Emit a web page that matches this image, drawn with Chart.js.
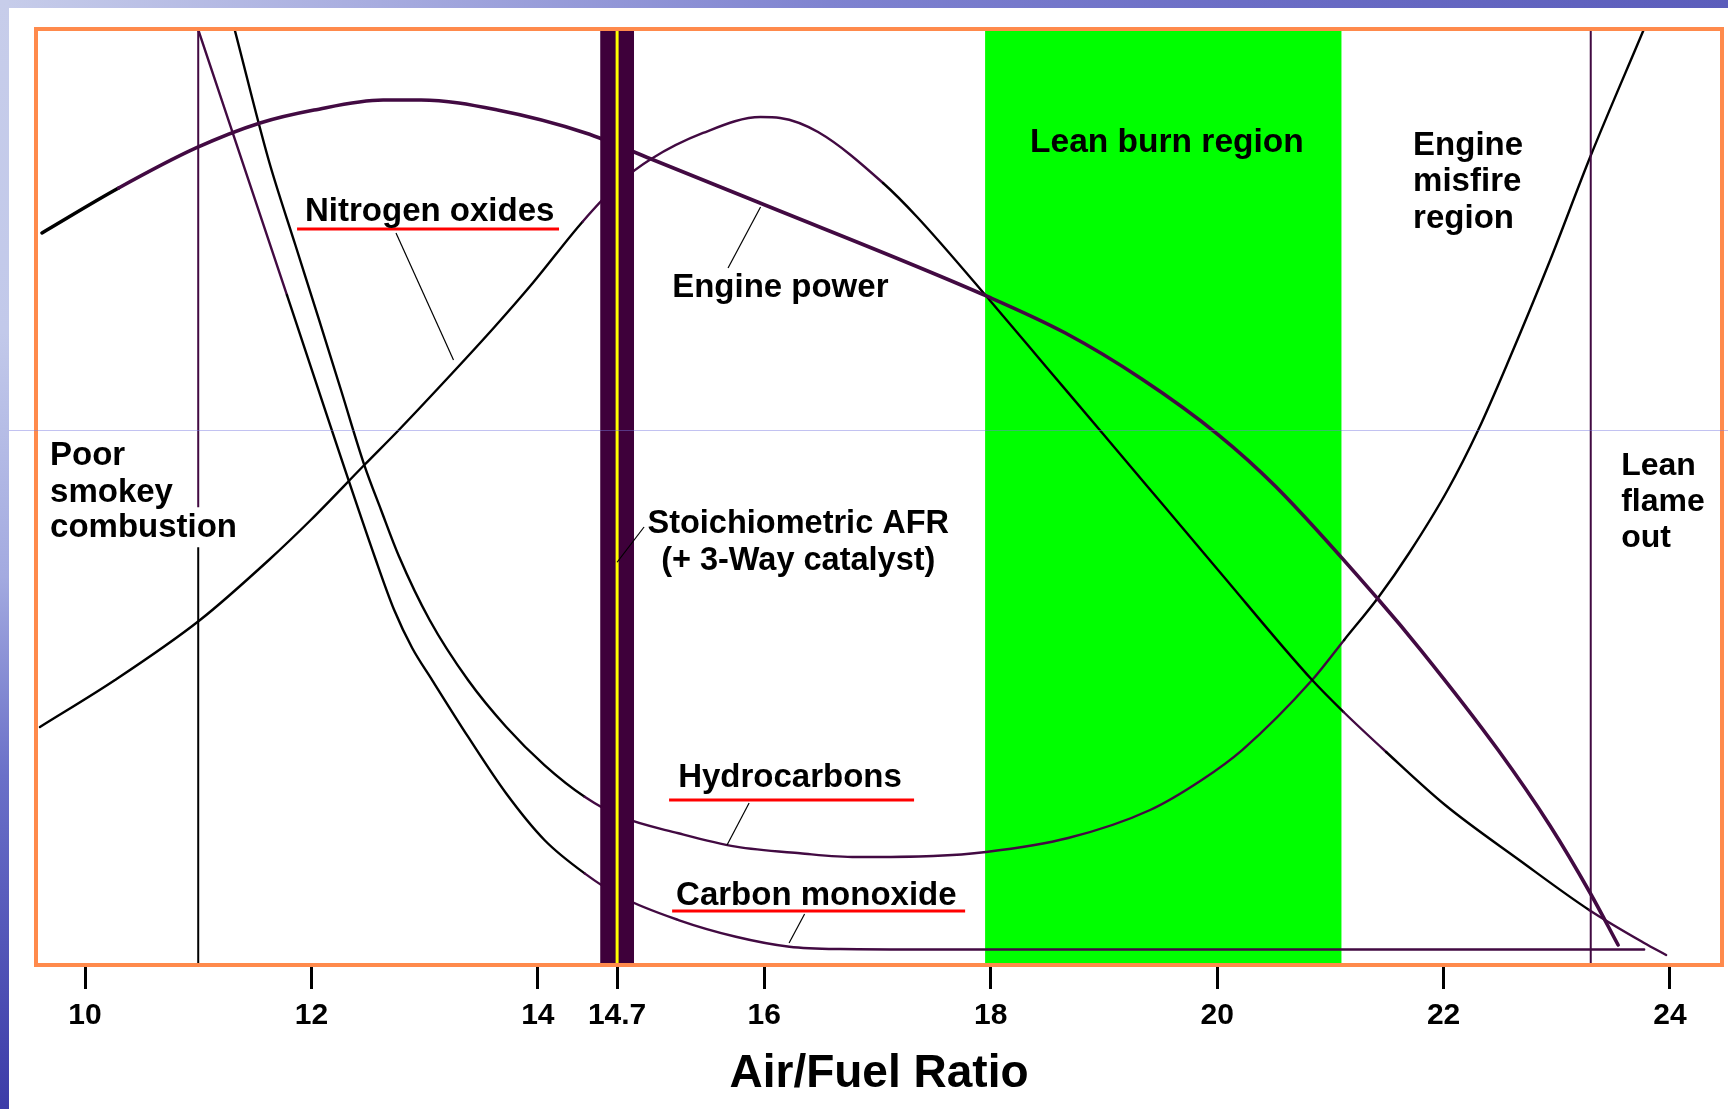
<!DOCTYPE html>
<html><head><meta charset="utf-8">
<script src="https://cdn.jsdelivr.net/npm/chart.js@4/dist/chart.umd.min.js"></script>
<style>
html,body{margin:0;padding:0;background:#fff;overflow:hidden;}
#wrap{position:relative;width:1728px;height:1109px;background:#fff;}
#topStrip{position:absolute;left:0;top:0;width:1728px;height:8px;
  background:linear-gradient(90deg,#c7cdea 0%,#a7acdf 22%,#7f83d0 48%,#6b6dc5 72%,#5b5dbb 100%);}
#leftStrip{position:absolute;left:0;top:0;width:9px;height:1109px;
  background:linear-gradient(180deg,#c7cdea 0%,#c2c9ea 30%,#a3aae0 52%,#6a70c8 70%,#3c3ca8 100%);}
#scan{position:absolute;left:9px;top:430px;width:1719px;height:1px;background:rgba(120,120,225,0.45);z-index:3;}
canvas{position:absolute;left:0;top:0;z-index:2;}
</style></head>
<body><div id="wrap"><div id="topStrip"></div><div id="leftStrip"></div>
<canvas id="c" width="1728" height="1109"></canvas><div id="scan"></div></div>
<script>
// ---------- data ----------
const afrTicks = [10, 12, 14, 14.7, 16, 18, 20, 22, 24];
const stoichAFR = 14.7;
const leanBurnAFR = [17.95, 21.1];
const poorCombustionAFR = 11;
const leanFlameOutAFR = 23.3;

const powerAFR   = [9.620,10.297,10.981,11.546,12.023,12.633,12.968,13.644,14.421,15.000,15.875,17.977,18.655,19.331,20.008,20.515,21.428,21.799,22.482,22.942,23.295,23.542];
const powerLevel = [78.33,83.15,87.45,90.13,91.52,92.60,92.60,91.52,89.06,86.27,81.97,71.49,67.62,62.69,56.70,51.15,38.95,33.58,22.85,14.70,7.51,1.93];

const noxAFR   = [9.602,10.265,11.016,11.624,11.994,12.467,12.772,13.245,13.617,13.955,14.395,14.732,15.000,15.459,15.967,16.140,16.475,17.049,17.350,18.012,18.487,18.993,19.501,20.008,20.839,21.117,21.493,22.014,22.668,23.286,23.772,23.966];
const noxLevel = [25.32,30.36,36.80,43.24,47.53,53.43,57.19,63.30,68.24,72.96,79.54,83.83,86.27,89.06,90.77,90.67,89.16,83.69,80.04,70.82,64.01,56.76,49.46,42.17,30.36,26.93,22.64,16.95,11.05,5.69,2.15,0.86];

const hcAFR   = [11.325,11.622,11.858,12.062,12.261,12.467,12.615,12.772,13.044,13.383,13.719,14.058,14.413,14.735,15.242,15.749,16.316,16.811,17.491,17.959,18.684,19.408,19.864,20.221,20.839,21.122,21.428,21.696,22.036,22.306,22.577,22.942,23.295,23.763];
const hcLevel = [100,86.16,77.04,69.21,61.48,53.43,48.61,43.67,36.80,30.36,25.35,21.24,17.84,15.70,13.92,12.48,11.77,11.37,11.48,11.91,13.41,16.42,19.64,22.85,30.36,34.66,39.30,43.99,50.75,57.19,64.70,75.43,86.48,100];

const coAFR   = [11.004,11.784,12.569,12.730,12.890,13.066,13.383,13.719,14.058,14.413,14.735,15.242,15.749,16.222,16.670,17.491,23.772];
const coLevel = [100,71.67,43.24,37.90,33.80,30.36,24.28,18.21,13.20,9.62,7.11,4.61,2.82,1.75,1.50,1.45,1.45];

const axisTitle = 'Air/Fuel Ratio';
const noteTexts = {
  nox: ['Nitrogen oxides'], power: ['Engine power'], lean: ['Lean burn region'],
  misfire: ['Engine','misfire','region'], poor: ['Poor','smokey','combustion'],
  stoich: ['Stoichiometric AFR','(+ 3-Way catalyst)'], hc: ['Hydrocarbons'],
  co: ['Carbon monoxide'], flame: ['Lean','flame','out']
};

// ---------- styles / layout ----------
const FONT = "'Liberation Sans', Arial, Helvetica, sans-serif";
const PURPLE = '#420a42', BLACK = '#000000';
const pts = (xs, ys) => xs.map((x, i) => ({x, y: ys[i]}));
function bands(stops){
  return ctx => {
    const xm = (ctx.p0.parsed.x + ctx.p1.parsed.x) / 2;
    for (const [lim, c] of stops) if (xm < lim) return c;
    return stops[stops.length - 1][1];
  };
}
const curve = (xs, ys, w, stops) => ({
  data: pts(xs, ys), borderWidth: w, borderColor: stops[0][1], pointRadius: 0,
  cubicInterpolationMode: 'monotone', fill: false, order: 5,
  borderJoinStyle: 'round', borderCapStyle: 'round',
  segment: { borderColor: bands(stops) }
});
const vline = (x, y0, y1, color, w, order) => ({
  data: [{x, y: y0}, {x, y: y1}], borderColor: color, borderWidth: w, pointRadius: 0, fill: false, order
});
const band = (x0, x1, color, order) => ({
  data: [{x: x0, y: 100}, {x: x1, y: 100}], borderWidth: 0, pointRadius: 0,
  backgroundColor: color, borderColor: 'rgba(0,0,0,0)', fill: 'start', order
});

const notes = [
  {key:'nox', x:11.943, y:[79.61], size:33},
  {key:'power', x:15.186, y:[71.46], size:33},
  {key:'lean', x:18.348, y:[87.02], size:33.5},
  {key:'misfire', x:21.731, y:[86.70,82.83,78.86], size:33},
  {key:'poor', x:9.691, y:[53.43,49.46,45.71], size:33},
  {key:'stoich', x:16.30, y:[46.14,42.20], size:32.5, align:'center'},
  {key:'hc', x:15.239, y:[18.88], size:33},
  {key:'co', x:15.221, y:[6.22], size:33},
  {key:'flame', x:23.569, y:[52.36,48.50,44.64], size:32}
];
const underlines = [
  {x0:11.873, x1:14.187, y:78.76},
  {x0:15.159, x1:17.323, y:17.49},
  {x0:15.186, x1:17.774, y:5.58}
];
const leaders = [
  [[12.747,78.33],[13.255,64.70]],
  [[15.967,81.12],[15.680,74.57]],
  [[14.938,46.78],[14.70,43.0]],
  [[15.866,17.17],[15.671,12.66]],
  [[16.356,5.26],[16.219,2.15]]
];

const annotPlugin = {
  id: 'annot',
  afterDatasetsDraw(chart){
    const {ctx, scales:{x, y}} = chart;
    ctx.save();
    ctx.strokeStyle = '#000'; ctx.lineWidth = 1.2;
    for (const [[a,b],[c,d]] of leaders){
      ctx.beginPath(); ctx.moveTo(x.getPixelForValue(a), y.getPixelForValue(b));
      ctx.lineTo(x.getPixelForValue(c), y.getPixelForValue(d)); ctx.stroke();
    }
    ctx.strokeStyle = '#ff0000'; ctx.lineWidth = 3;
    for (const u of underlines){
      const py = y.getPixelForValue(u.y);
      ctx.beginPath(); ctx.moveTo(x.getPixelForValue(u.x0), py); ctx.lineTo(x.getPixelForValue(u.x1), py); ctx.stroke();
    }
    ctx.fillStyle = '#000'; ctx.textBaseline = 'alphabetic';
    for (const n of notes){
      ctx.font = `bold ${n.size}px ${FONT}`;
      ctx.textAlign = n.align || 'left';
      noteTexts[n.key].forEach((line, i) => ctx.fillText(line, x.getPixelForValue(n.x), y.getPixelForValue(n.y[i])));
    }
    ctx.restore();
  }
};
const framePlugin = {
  id: 'frame',
  afterDatasetsDraw(chart){
    const {ctx, chartArea:a} = chart;
    ctx.save(); ctx.strokeStyle = '#ff8a4c'; ctx.lineWidth = 4;
    ctx.strokeRect(a.left, a.top - 2, a.right - a.left, a.bottom - a.top + 4);
    ctx.restore();
  }
};

new Chart(document.getElementById('c'), {
  type: 'line',
  data: { datasets: [
    band(leanBurnAFR[0], leanBurnAFR[1], '#00ff00', 10),
    curve(powerAFR, powerLevel, 3.6, [[10.3, BLACK], [99, PURPLE]]),
    curve(noxAFR, noxLevel, 2.4, [[14.55, BLACK], [17.05, PURPLE], [21.1, BLACK], [21.5, PURPLE], [23.3, BLACK], [99, PURPLE]]),
    curve(hcAFR, hcLevel, 2.4, [[14.4, BLACK], [21.12, PURPLE], [99, BLACK]]),
    curve(coAFR, coLevel, 2.4, [[11.9, PURPLE], [14.4, BLACK], [99, PURPLE]]),
    vline(poorCombustionAFR, 100, 48.9, PURPLE, 2, 4),
    vline(poorCombustionAFR, 44.6, 0, BLACK, 2, 4),
    vline(leanFlameOutAFR, 100, 0, PURPLE, 2, 4),
    band(stoichAFR - 0.15, stoichAFR + 0.15, '#3e003a', 1),
    vline(stoichAFR, 100, 0, '#ffff00', 3, 0)
  ]},
  options: {
    responsive: false, animation: false, events: [],
    layout: { padding: { left: 36, right: 6, top: 31, bottom: 0 } },
    plugins: { legend: { display: false }, tooltip: { enabled: false }, title: { display: false } },
    scales: {
      x: {
        type: 'linear', min: 9.5671, max: 24.4594,
        afterBuildTicks: s => { s.ticks = afrTicks.map(v => ({value: v})); },
        afterFit: s => { s.height = 146; },
        border: { display: false },
        grid: { display: true, drawOnChartArea: false, drawTicks: true, tickLength: 26, tickWidth: 3, tickColor: '#000' },
        ticks: { autoSkip: false, maxRotation: 0, minRotation: 0, padding: 9, color: '#000',
                 font: { family: FONT, weight: 'bold', size: 30 }, callback: v => String(v) },
        title: { display: true, text: axisTitle, color: '#000',
                 font: { family: FONT, weight: 'bold', size: 46 }, padding: { top: 0, bottom: 7 } }
      },
      y: { display: false, min: 0, max: 100 }
    }
  },
  plugins: [annotPlugin, framePlugin]
});
</script></body></html>
